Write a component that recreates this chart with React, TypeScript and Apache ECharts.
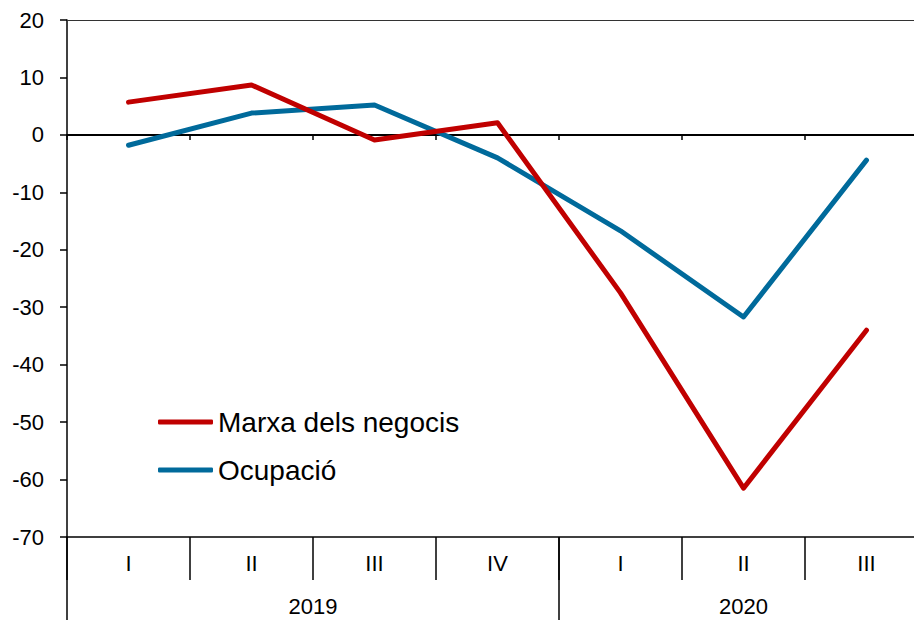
import React, { useEffect, useRef } from "react";
import * as echarts from "echarts";

const quarters = ["I", "II", "III", "IV", "I", "II", "III"];
const yearLabels = ["2019", "2020"];
const yearCenters = [2, 5.5];
const yearBounds = [0, 4];
const marxa = [5.7, 8.7, -0.9, 2.1, -27.5, -61.5, -34.0];
const ocupacio = [-1.8, 3.8, 5.2, -4.0, -16.7, -31.7, -4.4];
const seriesNames = ["Marxa dels negocis", "Ocupació"];

const FONT = "'Liberation Sans', Arial, sans-serif";

export default function App() {
  const ref = useRef<HTMLDivElement>(null);
  useEffect(() => {
    document.body.style.margin = "0";
    if (!ref.current) return;
    const chart = echarts.init(ref.current, undefined, { renderer: "svg" });
    chart.setOption({
      animation: false,
      textStyle: { fontFamily: FONT, color: "#000" },
      grid: { left: 67, top: 20, bottom: 84, right: 0, containLabel: false },
      legend: {
        left: 158,
        top: 407,
        padding: 0,
        orient: "vertical",
        itemWidth: 55,
        itemHeight: 5,
        itemGap: 18,
        icon: "roundRect",
        textStyle: { fontSize: 28, lineHeight: 30, color: "#000", fontFamily: FONT },
        data: seriesNames,
      },
      xAxis: [
        {
          type: "category",
          data: quarters,
          position: "bottom",
          boundaryGap: true,
          axisLine: { show: true, onZero: false, lineStyle: { color: "#000", width: 1.5 } },
          axisTick: { show: true, interval: 0, length: 43, lineStyle: { color: "#000", width: 1.5 } },
          axisLabel: { interval: 0, fontSize: 22, color: "#000", margin: 15, fontFamily: FONT },
          splitLine: { show: false },
        },
        {
          type: "value",
          min: 0,
          max: 7,
          position: "bottom",
          axisLine: { show: false, onZero: false },
          axisTick: { show: true, customValues: yearBounds, length: 83, lineStyle: { color: "#000", width: 1.5 } },
          axisLabel: {
            show: true,
            customValues: yearCenters,
            fontSize: 22,
            color: "#000",
            margin: 58,
            fontFamily: FONT,
            formatter: (v: number) => {
              const i = yearCenters.indexOf(v);
              return i >= 0 ? yearLabels[i] : "";
            },
          },
          splitLine: { show: false },
        },
        {
          type: "category",
          data: quarters,
          position: "bottom",
          boundaryGap: true,
          axisLine: { show: true, onZero: true, lineStyle: { color: "#000", width: 2 } },
          axisTick: { show: true, interval: 0, length: 5, lineStyle: { color: "#000", width: 1.5 } },
          axisLabel: { show: false },
          splitLine: { show: false },
        },
        {
          type: "category",
          data: quarters,
          position: "top",
          axisLine: { show: true, onZero: false, lineStyle: { color: "#333", width: 1 } },
          axisTick: { show: false },
          axisLabel: { show: false },
          splitLine: { show: false },
        },
      ],
      yAxis: {
        type: "value",
        min: -70,
        max: 20,
        interval: 10,
        axisLine: { show: true, onZero: false, lineStyle: { color: "#000", width: 1.5 } },
        axisTick: { show: true, length: 7, lineStyle: { color: "#000", width: 1.5 } },
        axisLabel: { fontSize: 22, color: "#000", margin: 23, fontFamily: FONT },
        splitLine: { show: false },
      },
      series: [
        {
          name: seriesNames[0],
          type: "line",
          xAxisIndex: 0,
          data: marxa,
          symbol: "none",
          color: "#C00000",
          lineStyle: { width: 5, color: "#C00000", cap: "round", join: "round" },
          z: 3,
        },
        {
          name: seriesNames[1],
          type: "line",
          xAxisIndex: 0,
          data: ocupacio,
          symbol: "none",
          color: "#006A9B",
          lineStyle: { width: 5, color: "#006A9B", cap: "round", join: "round" },
          z: 2,
        },
      ],
    });
    return () => chart.dispose();
  }, []);
  return (
    <div style={{ width: 914, height: 621, overflow: "hidden", position: "relative" }}>
      <div ref={ref} style={{ width: 928, height: 621 }} />
    </div>
  );
}
